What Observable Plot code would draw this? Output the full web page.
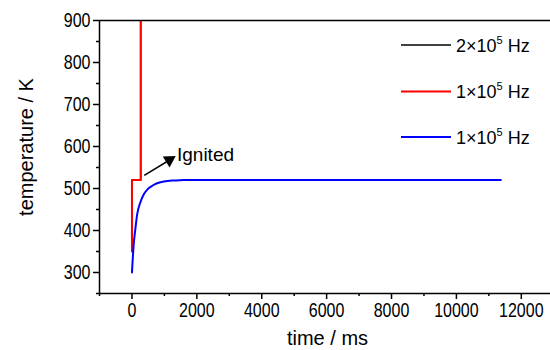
<!DOCTYPE html>
<html><head><meta charset="utf-8">
<script src="https://cdn.jsdelivr.net/npm/d3@7"></script>
<script src="https://cdn.jsdelivr.net/npm/@observablehq/plot@0.6"></script>
<style>body{margin:0;background:#fff} #chart{width:550px;height:350px}</style>
</head><body><div id="chart"></div>
<script>
// ---- data ----
const seriesNames = ["2×10", "1×10", "1×10"];
const seriesColors = ["#000000", "#ff0000", "#0000ff"];
const blackTime = [0, 0, 270, 270];
const blackTemp = [350, 520, 520, 1000];
const redTime = [0, 0, 270, 270];
const redTemp = [350, 520, 520, 1000];
const blueTime = [0, 30, 60, 100, 165, 250, 370, 480, 576, 700, 885, 1100, 1300, 1600, 2500, 11370];
const blueTemp = [300, 340, 372, 400, 440, 465, 487, 498, 504, 510, 515, 518, 519, 520, 520, 520];
const xMajor = [0, 2000, 4000, 6000, 8000, 10000, 12000];
const xMinor = [-1000, 1000, 3000, 5000, 7000, 9000, 11000];
const yMajor = [300, 400, 500, 600, 700, 800, 900];
const yMinor = [250, 350, 450, 550, 650, 750, 850];
const annText = ["Ignited"];
const annTextPos = [{t: 1388, T: 580}];
const arrowLine = [{t1: 379, T1: 531, t2: 1250, T2: 572}];
const arrowHead = [{t: 1153, T: 568}];

const toRows = (ts, vs) => ts.map((t, i) => ({t, T: vs[i]}));
const black = toRows(blackTime, blackTemp);
const red = toRows(redTime, redTemp);
const blue = toRows(blueTime, blueTemp);

const FONT = "'Liberation Sans', Arial, sans-serif";

const chart = Plot.plot({
  width: 550, height: 350,
  marginTop: 20, marginBottom: 57, marginLeft: 99, marginRight: 0,
  style: {fontFamily: FONT, fontSize: "20px", color: "#000", background: "#fff", overflow: "visible"},
  x: {domain: [-1000, 12900]},
  y: {domain: [250, 900]},
  marks: [
    Plot.axisX(xMinor, {tickSize: 3, strokeWidth: 1.5, tickFormat: () => "", label: null}),
    Plot.axisX(xMajor, {tickSize: 6, tickPadding: 3, strokeWidth: 1.5, fontSize: 20, tickFormat: d => String(d), label: null}),
    Plot.axisY(yMinor, {tickSize: 3, strokeWidth: 1.5, tickFormat: () => "", label: null}),
    Plot.axisY(yMajor, {tickSize: 6, tickPadding: 3, strokeWidth: 1.5, fontSize: 20, tickFormat: d => String(d), label: null}),
    Plot.line(black, {x: "t", y: "T", stroke: seriesColors[0], strokeWidth: 1.5, clip: true}),
    Plot.line(red, {x: "t", y: "T", stroke: seriesColors[1], strokeWidth: 2, clip: true}),
    Plot.line(blue, {x: "t", y: "T", stroke: seriesColors[2], strokeWidth: 2, curve: "monotone-x", clip: true}),
    Plot.link(arrowLine, {x1: "t1", y1: "T1", x2: "t2", y2: "T2", stroke: "#000", strokeWidth: 1.5}),
    Plot.dot(arrowHead, {x: "t", y: "T", symbol: "triangle", r: 4.8, fill: "#000", stroke: null, rotate: 58.5}),
    Plot.text(annTextPos, {x: "t", y: "T", text: (d, i) => annText[i], textAnchor: "start", fontSize: 19}),
    Plot.ruleX([-1000], {stroke: "#000", strokeWidth: 1.5}),
    Plot.ruleY([250], {stroke: "#000", strokeWidth: 1.5}),
    Plot.ruleY([900], {stroke: "#000", strokeWidth: 1.5}),
    Plot.text(["time / ms"], {frameAnchor: "bottom", lineAnchor: "middle", dy: 45, dx: 2.5, fontSize: 20}),
    Plot.text(["temperature / K"], {frameAnchor: "left", textAnchor: "middle", lineAnchor: "middle", rotate: -90, dx: -73, dy: -10, fontSize: 20})
  ]
});
document.getElementById("chart").appendChild(chart);

// squeeze tick labels horizontally like the reference
d3.select(chart).selectAll("g[aria-label$='tick label'] text").each(function() {
  const len = this.getComputedTextLength();
  if (len > 0) {
    this.setAttribute("textLength", len * 0.8);
    this.setAttribute("lengthAdjust", "spacingAndGlyphs");
  }
});

// legend
const lg = d3.select(chart).append("g").attr("font-family", FONT).attr("font-size", 18).attr("text-anchor", "start");
const legendY = [45, 91.5, 137];
seriesNames.forEach((name, i) => {
  lg.append("line").attr("x1", 401).attr("x2", 451).attr("y1", legendY[i]).attr("y2", legendY[i])
    .attr("stroke", seriesColors[i]).attr("stroke-width", i === 0 ? 1.5 : 2);
  const t = lg.append("text").attr("x", 456).attr("y", legendY[i] + 6.5).attr("fill", "#000");
  t.append("tspan").text(name);
  t.append("tspan").attr("font-size", 11).attr("dy", -8).text("5");
  t.append("tspan").attr("dy", 8).text(" Hz");
});
</script></body></html>
